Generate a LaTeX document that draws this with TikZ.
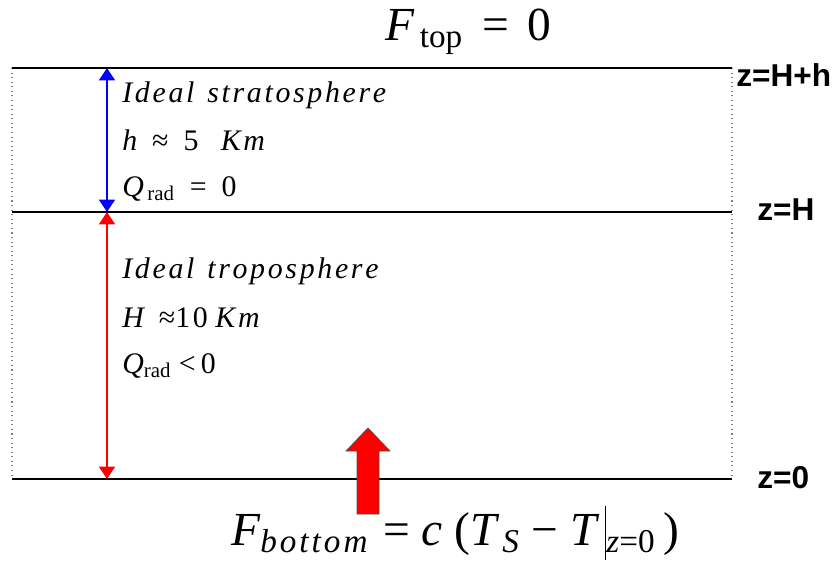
\RequirePackage{fix-cm}
\documentclass[tikz,border=0pt]{standalone}
\usepackage{fontspec}
\newfontfamily\timesfont{Liberation Serif}
\newfontfamily\zfont{Liberation Sans}
\usetikzlibrary{arrows.meta,positioning}

% letter spaced text, ~ stands for a space
\newcommand\lspgap{0.09em}
\newcommand\lspaced[1]{\lspacedaux#1\relax}
\def\lspacedaux#1{\ifx\relax#1\else#1\kern\lspgap\expandafter\lspacedaux\fi}

\begin{document}
\begin{tikzpicture}[
    x=0.02cm, y=-0.02cm,
    level/.style={draw, line width=1.3pt},
    side/.style={draw=gray, dotted, line width=0.6pt},
    span/.style={{Triangle[length=7pt, width=9pt]}-{Triangle[length=7pt, width=9pt]}, line width=1.1pt},
    note/.style={anchor=base west, inner sep=0pt, font=\timesfont\fontsize{17}{20}\selectfont},
    zlab/.style={anchor=west, inner sep=0pt, font=\zfont\bfseries\fontsize{18}{21}\selectfont},
    flux/.style={anchor=base west, inner sep=0pt, font=\timesfont\fontsize{27}{32}\selectfont}
]
\useasboundingbox (0,0) rectangle (838,565);

% corners of the column
\coordinate (tl) at (12,68);
\coordinate (tr) at (732,68);
\coordinate (ml) at (12,212);
\coordinate (mr) at (732,212);
\coordinate (bl) at (12,479);
\coordinate (br) at (732,479);

\draw[side] (tl) -- (bl);
\draw[side] (tr) -- (br);
\draw[level] (tl) -- (tr);
\draw[level, line width=1pt] (ml) -- (mr);
\draw[level] (bl) -- (br);

% layer thickness arrows
\coordinate (st) at (107,68);
\coordinate (sm) at (107,212);
\coordinate (sb) at (107,479);
\draw[span, blue] (sm) -- (st);
\draw[span, red] (sm) -- (sb);

% stratosphere
\node[note] (strat) at (122,102) {\itshape\lspaced{Ideal~stratosphere}};
\node[note] (hval) at (122,150) {\itshape h\ \ \upshape≈\ \ 5\ \ \ \itshape\lspaced{Km}};
\node[note] (qzero) at (122,196) {\itshape Q\upshape\textsubscript{\,rad}\ \ =\ \ 0};

% troposphere
\node[note] (trop) at (122,278) {\itshape\lspaced{Ideal~troposphere}};
\node[note] (Hval) at (122,327) {\itshape H\ \ \upshape≈\lspaced{10}\,\itshape\lspaced{Km}};
\node[note] (qneg) at (122,373) {\itshape Q\upshape\textsubscript{rad}\ <\,0};

% heights
\node[zlab] (ztop) at (736,75) {z=H+h};
\node[zlab] (zmid) at (757,210) {z=H};
\node[zlab] (zbot) at (757,478) {z=0};

% fluxes
\node[flux] (ftop) at (385,40) {\itshape F\upshape\textsubscript{\,top}\hspace{0.4em}=\hspace{0.4em}0};
\node[flux] (fbot) at (231,545) {\itshape F\textsubscript{\lspaced{bottom}}\ \upshape=\ \itshape c\ \upshape(\itshape T\textsubscript{\,S}\ \upshape−\ \itshape T\upshape\,\rule[-8.5pt]{1pt}{30.5pt}\textsubscript{\itshape z\upshape=0}\,)};

\draw[fill=red, draw=black!70, line width=0.4pt]
    (357,514) -- (357,451) -- (346,451) -- (368,428) -- (390,451)
    -- (379,451) -- (379,514) -- cycle;

\end{tikzpicture}
\end{document}
